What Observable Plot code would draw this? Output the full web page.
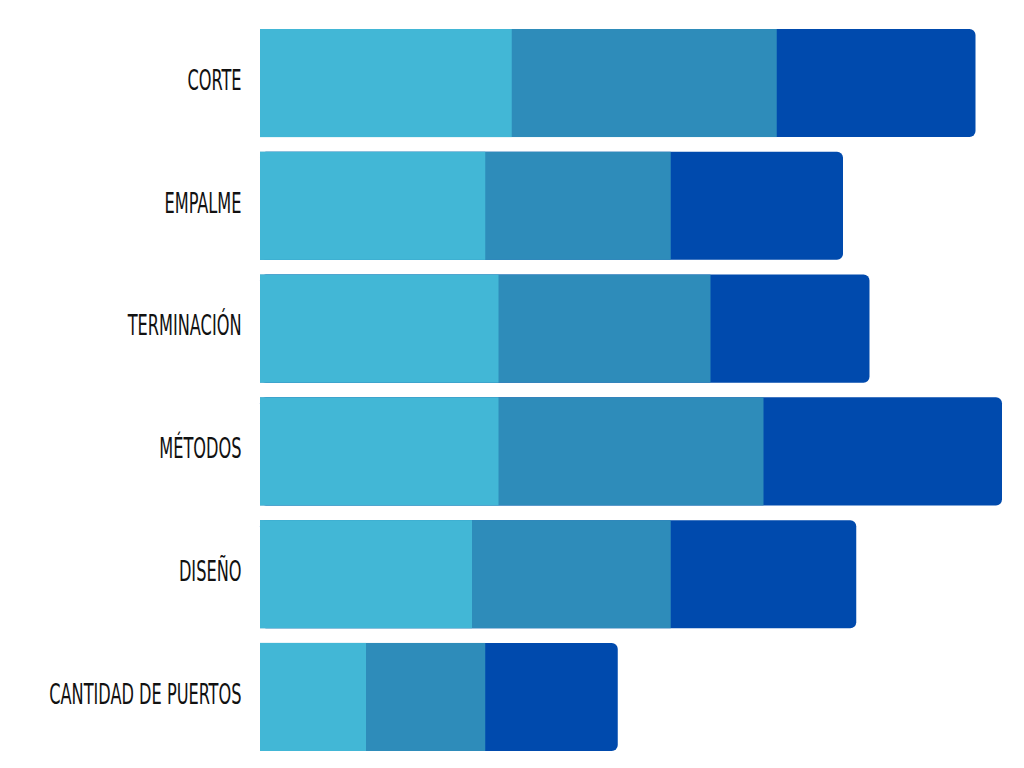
<!DOCTYPE html>
<html>
<head>
<meta charset="utf-8">
<script src="https://cdn.jsdelivr.net/npm/d3@7"></script>
<script src="https://cdn.jsdelivr.net/npm/@observablehq/plot@0.6"></script>
<style>
  html, body { margin: 0; padding: 0; background: #ffffff; }
  #chart svg { display: block; }
</style>
</head>
<body>
<div id="chart"></div>
<script>
const categories = ["CORTE", "EMPALME", "TERMINACIÓN", "MÉTODOS", "DISEÑO", "CANTIDAD DE PUERTOS"];
const serie1 = [19, 17, 18, 18, 16, 8];
const serie2 = [20, 14, 16, 20, 15, 9];
const serie3 = [15, 13, 12, 18, 14, 10];
const seriesNames = ["Serie 1", "Serie 2", "Serie 3"];
const colors = ["#42B7D6", "#2E8CBA", "#004AAD"];

const rows = categories.map((c, i) => ({
  cat: c,
  a: serie1[i],
  b: serie2[i],
  c3: serie3[i],
  total: serie1[i] + serie2[i] + serie3[i]
}));

const chart = Plot.plot({
  width: 1024,
  height: 768,
  marginLeft: 260,
  marginRight: 22,
  marginTop: 29,
  marginBottom: 17,
  style: { fontFamily: "'DejaVu Sans Condensed', 'DejaVu Sans', sans-serif", fontStretch: "condensed", background: "#ffffff" },
  x: { domain: [0, 56], axis: null },
  y: { domain: categories, paddingInner: 0.12, paddingOuter: 0, round: false, label: null },
  marks: [
    Plot.barX(rows, { y: "cat", x1: 0, x2: "total", fill: colors[2], rx: 6 }),
    Plot.barX(rows, { y: "cat", x1: 0, x2: d => d.a + d.b, fill: colors[1] }),
    Plot.barX(rows, { y: "cat", x1: 0, x2: "a", fill: colors[0] }),
    Plot.axisY({ tickSize: 0, tickPadding: 19, dy: -3, fontSize: 29, fontWeight: "normal", fill: "#111111", label: null })
  ]
});
document.getElementById("chart").appendChild(chart);
// narrow the labels to mimic a tall condensed display face
d3.select(chart).selectAll("text").each(function () {
  const w = this.getComputedTextLength();
  if (w > 0) {
    this.setAttribute("textLength", (w * 0.62).toFixed(1));
    this.setAttribute("lengthAdjust", "spacingAndGlyphs");
  }
});
</script>
</body>
</html>
